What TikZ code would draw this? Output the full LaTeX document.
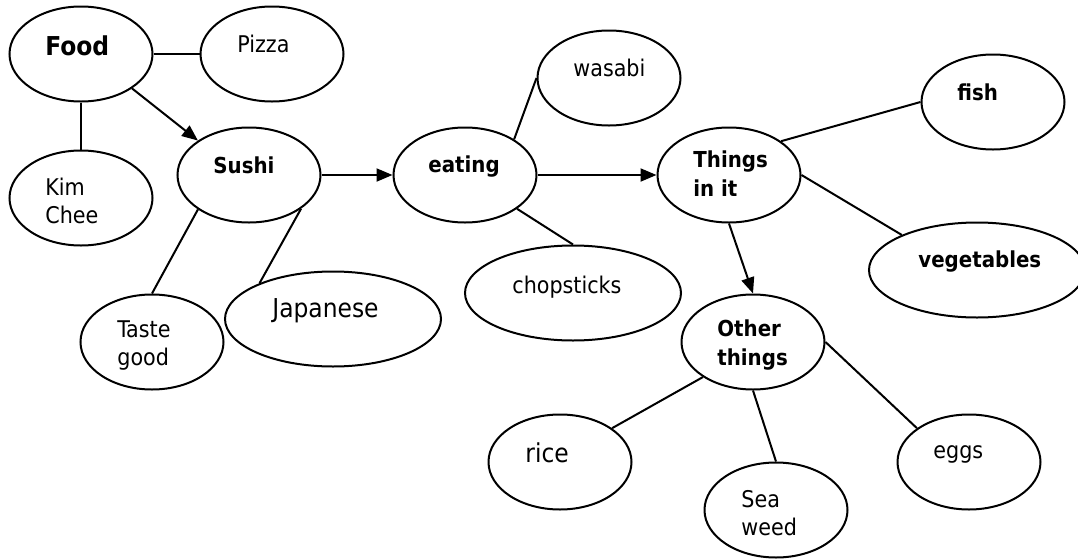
\documentclass[tikz,border=0pt]{standalone}
\usepackage{fontspec}
\setmainfont{DejaVu Sans Condensed}
\usetikzlibrary{arrows.meta}
\usetikzlibrary{shapes.geometric}
\newcommand{\bubblew}{71.5pt}
\newcommand{\bubbleh}{47.5pt}
\newcommand{\widebubblew}{108pt}
\newcommand{\twolines}[2]{\vtop{\hbox{#1}\hbox{#2}}}
\tikzset{
  bubble/.style={draw, line width=1pt, ellipse, inner sep=0pt,
    minimum width=\bubblew, minimum height=\bubbleh},
  widebubble/.style={bubble, minimum width=\widebubblew},
  word/.style={anchor=base west, inner sep=0pt,
    font=\fontsize{11.5}{14}\selectfont},
  bigword/.style={word, font=\fontsize{13}{15}\selectfont},
  boldword/.style={word, font=\fontsize{11}{14.5}\selectfont\bfseries},
  headword/.style={word, font=\fontsize{13}{15}\selectfont\bfseries},
  link/.style={line width=1pt},
  flow/.style={link, -{Triangle[length=8pt,width=6.5pt]}}
}
\begin{document}
\begin{tikzpicture}[x=0.5pt,y=-0.5pt]
    \useasboundingbox (0,0) rectangle (1078,558);
    % food and sushi
    \node[bubble] (food) at (81,54) {};
    \node[bubble] (pizza) at (272,54) {};
    \node[bubble] (kimchee) at (81,198) {};
    \node[bubble] (sushi) at (249,175) {};
    \node[bubble] (tastegood) at (152,342) {};
    \node[widebubble] (japanese) at (333,319) {};
    % eating
    \node[bubble] (eating) at (465,175) {};
    \node[bubble] (wasabi) at (609,78) {};
    \node[widebubble] (chopsticks) at (573,293) {};
    % things in it
    \node[bubble] (things) at (729,175) {};
    \node[bubble] (fish) at (993,102) {};
    \node[widebubble] (vegetables) at (977,270) {};
    % other things
    \node[bubble] (other) at (753,342) {};
    \node[bubble] (rice) at (560,462) {};
    \node[bubble] (seaweed) at (776,510) {};
    \node[bubble] (eggs) at (969,462) {};
    % texts
    \node[headword] (foodtxt) at (45,55) {Food};
    \node[word] (pizzatxt) at (237,52) {Pizza};
    \node[word] (kimcheetxt) at (45,195) {\twolines{Kim}{Chee}};
    \node[boldword] (sushitxt) at (213,173) {Sushi};
    \node[word] (tastegoodtxt) at (117,337) {\twolines{Taste}{good}};
    \node[bigword] (japanesetxt) at (272,317) {Japanese};
    \node[boldword] (eatingtxt) at (428,172) {eating};
    \node[word] (wasabitxt) at (573,76) {wasabi};
    \node[word] (chopstickstxt) at (512,293) {chopsticks};
    \node[boldword] (thingstxt) at (693,167) {\twolines{Things}{in it}};
    \node[boldword] (fishtxt) at (957,100) {fish};
    \node[boldword] (vegetablestxt) at (918,267) {vegetables};
    \node[boldword] (othertxt) at (717,336) {\twolines{Other}{things}};
    \node[bigword] (ricetxt) at (525,462) {rice};
    \node[word] (seaweedtxt) at (741,507) {\twolines{Sea}{weed}};
    \node[word] (eggstxt) at (933,458) {eggs};
    % connectors
    \draw[link] (food.east) -- (pizza.west);
    \draw[link] (food.south) -- (kimchee.north);
    \draw[flow] (food.-34) -- (sushi.146);
    \draw[link] (sushi.214) -- (tastegood.north);
    \draw[link] (sushi.-33) -- (japanese.154);
    \draw[flow] (sushi.east) -- (eating.west);
    \draw[link] (eating.36) -- (wasabi.west);
    \draw[link] (eating.-33) -- (chopsticks.north);
    \draw[flow] (eating.east) -- (things.west);
    \draw[link] (things.33) -- (fish.west);
    \draw[link] (things.east) -- (vegetables.155);
    \draw[flow] (things.south) -- (other.north);
    \draw[link] (other.215) -- (rice.33);
    \draw[link] (other.south) -- (seaweed.north);
    \draw[link] (other.east) -- (eggs.147);
\end{tikzpicture}
\end{document}
